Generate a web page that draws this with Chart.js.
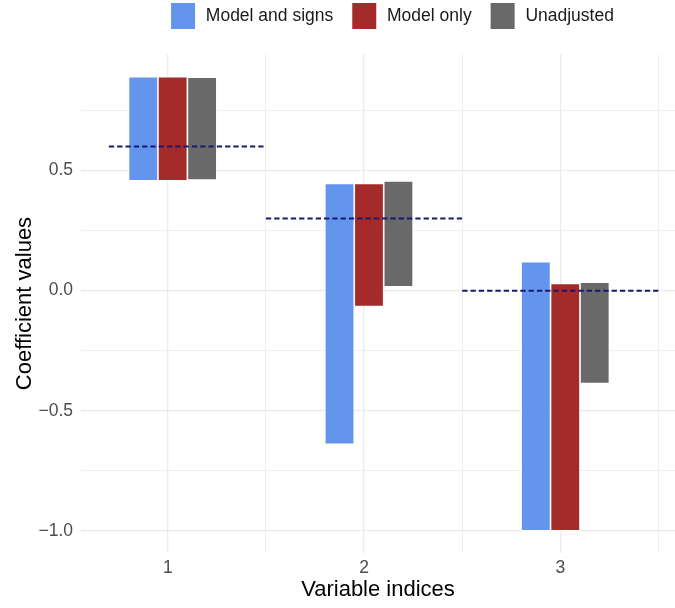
<!DOCTYPE html>
<html>
<head>
<meta charset="utf-8">
<script src="https://cdn.jsdelivr.net/npm/chart.js"></script>
<style>
  html, body { margin: 0; padding: 0; background: #fff; }
  #wrap { width: 675px; height: 608px; }
</style>
</head>
<body>
<div id="wrap"><canvas id="coefChart"></canvas></div>
<script>
// variable indices on the x axis
const indices = [1, 2, 3];
const seriesNames = ['Model and signs', 'Model only', 'Unadjusted'];

// interval ends (low / high) for each index
const signsLow = [0.457, -0.64, -1.0];
const signsHigh = [0.89, 0.446, 0.12];
const modelLow = [0.457, -0.066, -1.0];
const modelHigh = [0.89, 0.446, 0.03];
const unadjLow = [0.46, 0.016, -0.387];
const unadjHigh = [0.888, 0.457, 0.035];

// true coefficients, drawn as dashed segments
const trueValues = [0.6, 0.3, 0.0];
const trueFrom = [0.7, 1.5, 2.5];
const trueTo = [1.5, 2.5, 3.5];

// ticks / grid
const xMinor = [1.5, 2.5, 3.5];
const yTickValues = [-1.0, -0.5, 0.0, 0.5];
const yTickLabels = ['\u22121.0', '\u22120.5', '0.0', '0.5'];
const yMinor = [-0.75, -0.25, 0.25, 0.75];

const colors = ['#6495ED', '#A52A2A', '#696969'];
const lows = [signsLow, modelLow, unadjLow];
const highs = [signsHigh, modelHigh, unadjHigh];

// the dodged groups sit a little right of the tick
const dodgeShift = 0.025;
const FONT = '"Liberation Sans", Arial, Helvetica, sans-serif';

const near = (a, b) => Math.abs(a - b) < 1e-9;

const datasets = seriesNames.map((name, s) => ({
    type: 'bar',
    label: name,
    data: indices.map((x, i) => ({ x: x + dodgeShift, y: [lows[s][i], highs[s][i]] })),
    backgroundColor: colors[s],
    borderColor: '#ffffff',
    borderWidth: 0.8,
    borderSkipped: false,
    categoryPercentage: 0.9,
    barPercentage: 1.0,
    order: 2
}));

trueValues.forEach((v, i) => {
    datasets.push({
        type: 'line',
        label: 'true' + i,
        data: [{ x: trueFrom[i], y: v }, { x: trueTo[i], y: v }],
        borderColor: '#191970',
        borderWidth: 2,
        borderDash: [5.3, 3],
        pointRadius: 0,
        fill: false,
        order: 0
    });
});

// push the legend a bit to the right and up, leave room above the panel
const legendNudge = {
    id: 'legendNudge',
    beforeUpdate(chart) {
        const lg = chart.legend;
        if (lg && !lg._patched) {
            const fit = lg.fit;
            lg.fit = function () {
                fit.call(this);
                this.height = 54;
            };
            lg._patched = true;
        }
    },
    afterLayout(chart) {
        const lg = chart.legend;
        lg.left += 48; lg.right += 48;
        lg.top -= 16; lg.bottom -= 16;
    }
};

new Chart(document.getElementById('coefChart'), {
    type: 'bar',
    data: { datasets },
    options: {
        responsive: true,
        maintainAspectRatio: false,
        animation: false,
        layout: { padding: { left: 12, right: 0, top: 0, bottom: 5 } },
        plugins: {
            tooltip: { enabled: false },
            legend: {
                position: 'top',
                labels: {
                    // thick white outline trims the key so the text sits further right
                    generateLabels: chart => Chart.defaults.plugins.legend.labels.generateLabels(chart)
                        .filter(item => seriesNames.includes(item.text))
                        .map(item => Object.assign(item, { lineWidth: 4, strokeStyle: '#ffffff' })),
                    boxWidth: 28,
                    boxHeight: 30,
                    padding: 17,
                    color: '#1a1a1a',
                    font: { family: FONT, size: 17.5 }
                }
            }
        },
        scales: {
            x: {
                type: 'linear',
                min: 0.558,
                max: 3.584,
                offset: false,
                afterBuildTicks: axis => {
                    axis.ticks = indices.concat(xMinor).sort((a, b) => a - b).map(v => ({ value: v }));
                },
                afterFit: axis => { axis.height = 50; axis.paddingLeft = 0; axis.paddingRight = 0; },
                ticks: {
                    autoSkip: false,
                    maxRotation: 0,
                    padding: 6,
                    color: '#4d4d4d',
                    font: { family: FONT, size: 17.5, lineHeight: 1.0 },
                    callback: v => indices.includes(v) ? String(v) : ''
                },
                grid: {
                    offset: false,
                    drawTicks: false,
                    color: '#ebebeb',
                    lineWidth: ctx => indices.includes(ctx.tick.value) ? 1.3 : 0.8
                },
                border: { display: false },
                title: {
                    display: true,
                    text: 'Variable indices',
                    color: '#000000',
                    font: { family: FONT, size: 22, lineHeight: 1.2 },
                    padding: 0
                }
            },
            y: {
                type: 'linear',
                min: -1.092,
                max: 0.985,
                afterBuildTicks: axis => {
                    axis.ticks = yTickValues.concat(yMinor).sort((a, b) => a - b).map(v => ({ value: v }));
                },
                afterFit: axis => { axis.width = 69; axis.paddingTop = 0; axis.paddingBottom = 0; },
                ticks: {
                    autoSkip: false,
                    padding: 8,
                    color: '#4d4d4d',
                    font: { family: FONT, size: 17.5 },
                    callback: v => {
                        const k = yTickValues.findIndex(t => near(t, v));
                        return k >= 0 ? yTickLabels[k] : '';
                    }
                },
                grid: {
                    drawTicks: false,
                    color: '#ebebeb',
                    lineWidth: ctx => yTickValues.some(t => near(t, ctx.tick.value)) ? 1.3 : 0.8
                },
                border: { display: false },
                title: {
                    display: true,
                    text: 'Coefficient values',
                    color: '#000000',
                    font: { family: FONT, size: 22, lineHeight: 1.2 },
                    padding: 0
                }
            }
        }
    },
    plugins: [legendNudge]
});
</script>
</body>
</html>
